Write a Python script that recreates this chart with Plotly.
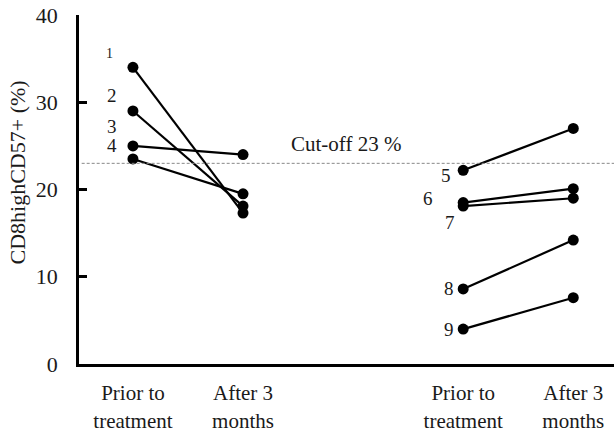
import plotly.graph_objects as go

# ---- data ----
patients = ["1", "2", "3", "4", "5", "6", "7", "8", "9"]
group_pos = [[1, 2], [1, 2], [1, 2], [1, 2], [4, 5], [4, 5], [4, 5], [4, 5], [4, 5]]
prior_vals = [34.0, 29.0, 25.0, 23.5, 22.2, 18.5, 18.1, 8.6, 4.0]
after_vals = [17.3, 18.1, 24.0, 19.5, 27.0, 20.1, 19.0, 14.2, 7.6]
cutoff = 23
cutoff_label = "Cut-off 23 %"
tick_positions = [1, 2, 4, 5]
tick_labels = ["Prior to<br>treatment", "After 3<br>months", "Prior to<br>treatment", "After 3<br>months"]
y_ticks = [0, 10, 20, 30, 40]
y_title = "CD8highCD57+ (%)"

# label offsets (style only, in px relative to the "prior" point)
label_offsets = [(-23, 14), (-21, 15), (-21, 19), (-21, 13), (-17, -5), (-35, 4), (-13, -16), (-14, 0), (-14, 0)]
label_sizes = [14, 19, 19, 19, 19, 19, 19, 19, 19]

FONT = "Liberation Serif"
TXT = "#1a1a1a"
fig = go.Figure()
for i, p in enumerate(patients):
    fig.add_trace(go.Scatter(
        x=group_pos[i], y=[prior_vals[i], after_vals[i]],
        mode="lines+markers",
        line=dict(color="black", width=2.2),
        marker=dict(color="black", size=11),
        showlegend=False, hoverinfo="skip"))

anns = []
for i, p in enumerate(patients):
    dx, dy = label_offsets[i]
    anns.append(dict(x=group_pos[i][0], y=prior_vals[i], xref="x", yref="y", text=p,
                     showarrow=False, xshift=dx, yshift=dy,
                     font=dict(family=FONT, size=label_sizes[i], color=TXT)))
anns.append(dict(x=2.42, y=cutoff, xref="x", yref="y", text=cutoff_label, showarrow=False,
                 xanchor="left", yanchor="bottom", yshift=5,
                 font=dict(family=FONT, size=21, color=TXT)))
anns.append(dict(x=0, y=0.5, xref="paper", yref="paper", text=y_title, showarrow=False,
                 textangle=-90, xanchor="center", yanchor="middle", xshift=-62, yshift=17,
                 font=dict(family=FONT, size=22, color=TXT)))

fig.add_shape(type="line", xref="paper", yref="y", x0=0.005, x1=1, y0=cutoff, y1=cutoff,
              line=dict(color="#888", width=1, dash="3px,2px"))

fig.update_layout(
    width=614, height=437,
    margin=dict(l=79, r=0, t=15, b=73, autoexpand=False),
    paper_bgcolor="white", plot_bgcolor="white",
    annotations=anns,
    hovermode=False,
    font=dict(family=FONT, size=21, color=TXT),
    xaxis=dict(range=[0.51, 5.37], tickvals=tick_positions, ticktext=tick_labels,
               showgrid=False, zeroline=False, showline=True, linecolor="black", linewidth=3,
               automargin=False,
               ticks="", ticklabelstandoff=8, tickfont=dict(family=FONT, size=21, color=TXT)),
    yaxis=dict(range=[0, 40], tickvals=y_ticks, showgrid=False, zeroline=False,
               showline=True, linecolor="black", linewidth=2.5,
               ticks="inside", ticklen=8, tickwidth=2.5, tickcolor="black",
               ticklabeloverflow="allow", automargin=False,
               ticklabelstandoff=14, tickfont=dict(family=FONT, size=22, color=TXT)),
)
# remove the default page margin so the figure sits at the window's top-left corner
fig.write_html("out.html", config={"displayModeBar": False},
               post_script="document.body.style.margin='0';document.body.style.overflow='hidden';")
